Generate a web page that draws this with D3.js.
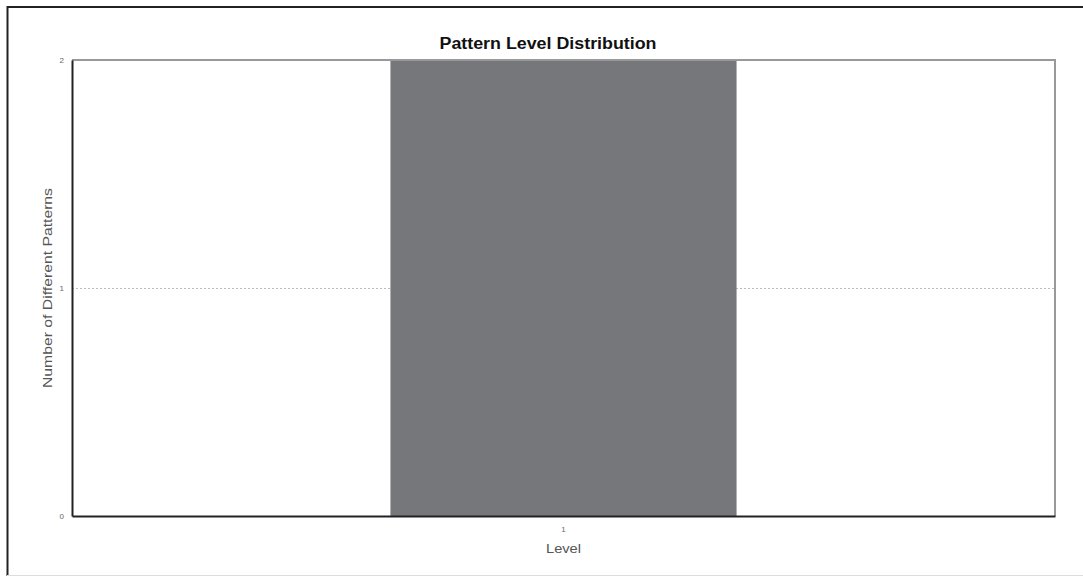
<!DOCTYPE html>
<html><head><meta charset="utf-8">
<script src="https://cdn.jsdelivr.net/npm/d3@7"></script>
<style>
body{margin:0;background:#fff;}
svg{display:block;font-family:"Liberation Sans",Arial,sans-serif;}
</style></head><body>
<svg id="c" width="1083" height="577"></svg>
<script>
const categories = ["1"];
const values = [2];
const yTicks = [0, 1, 2];
const title = "Pattern Level Distribution";
const xLabel = "Level";
const yLabel = "Number of Different Patterns";

const svg = d3.select("#c");
const W = 1083, H = 577;
const m = {left: 72, right: 1055, top: 60, bottom: 516};

// outer frame
svg.append("line").attr("x1",7.5).attr("x2",W).attr("y1",7).attr("y2",7).attr("stroke","#222").attr("stroke-width",2);
svg.append("line").attr("x1",7.5).attr("x2",7.5).attr("y1",6).attr("y2",576).attr("stroke","#222").attr("stroke-width",2);
svg.append("line").attr("x1",7).attr("x2",W).attr("y1",575.5).attr("y2",575.5).attr("stroke","#ddd").attr("stroke-width",1);

const x = d3.scaleBand().domain(categories).range([m.left, m.right]).paddingInner(0).paddingOuter(0.92);
const y = d3.scaleLinear().domain([0, 2]).range([m.bottom, m.top]);

// gridlines
svg.append("g").selectAll("line").data(yTicks.filter(d=>d>0 && d<2)).join("line")
  .attr("x1", m.left).attr("x2", m.right)
  .attr("y1", d=>y(d)+0.5).attr("y2", d=>y(d)+0.5)
  .attr("stroke","#bbb").attr("stroke-dasharray","2,2");

// bars
svg.append("g").selectAll("rect").data(categories).join("rect")
  .attr("x", d=>x(d)).attr("width", x.bandwidth())
  .attr("y", (d,i)=>y(values[i])).attr("height", (d,i)=>y(0)-y(values[i]))
  .attr("fill","#76777b");

// plot frame: top/right grey, left/bottom dark
svg.append("line").attr("x1",m.left).attr("x2",m.right+1).attr("y1",m.top).attr("y2",m.top).attr("stroke","#999").attr("stroke-width",2);
svg.append("line").attr("x1",m.right).attr("x2",m.right).attr("y1",m.top).attr("y2",m.bottom).attr("stroke","#999").attr("stroke-width",2);

// axes
const yAxis = d3.axisLeft(y).tickValues(yTicks).tickFormat(d3.format("d")).tickSize(0).tickPadding(8);
const gy = svg.append("g").attr("transform",`translate(${m.left},0)`).call(yAxis);
gy.select(".domain").attr("stroke","#222").attr("stroke-width",2);
gy.selectAll("text").attr("font-size",8).attr("fill","#666");

const xAxis = d3.axisBottom(x).tickSize(0).tickPadding(10);
const gx = svg.append("g").attr("transform",`translate(0,${m.bottom})`).call(xAxis);
gx.select(".domain").attr("stroke","#222").attr("stroke-width",2);
gx.selectAll("text").attr("font-size",8).attr("fill","#666");

// title & labels
svg.append("text").attr("x",548).attr("y",49).attr("text-anchor","middle")
  .attr("font-size",16).attr("font-weight","bold").attr("fill","#111")
  .attr("textLength",217).attr("lengthAdjust","spacingAndGlyphs").text(title);
svg.append("text").attr("x",(m.left+m.right)/2).attr("y",553).attr("text-anchor","middle")
  .attr("font-size",13).attr("fill","#555")
  .attr("textLength",35).attr("lengthAdjust","spacingAndGlyphs").text(xLabel);
svg.append("text").attr("transform",`translate(52,${(m.top+m.bottom)/2}) rotate(-90)`).attr("text-anchor","middle")
  .attr("font-size",13).attr("fill","#555")
  .attr("textLength",200).attr("lengthAdjust","spacingAndGlyphs").text(yLabel);
</script>
</body></html>
